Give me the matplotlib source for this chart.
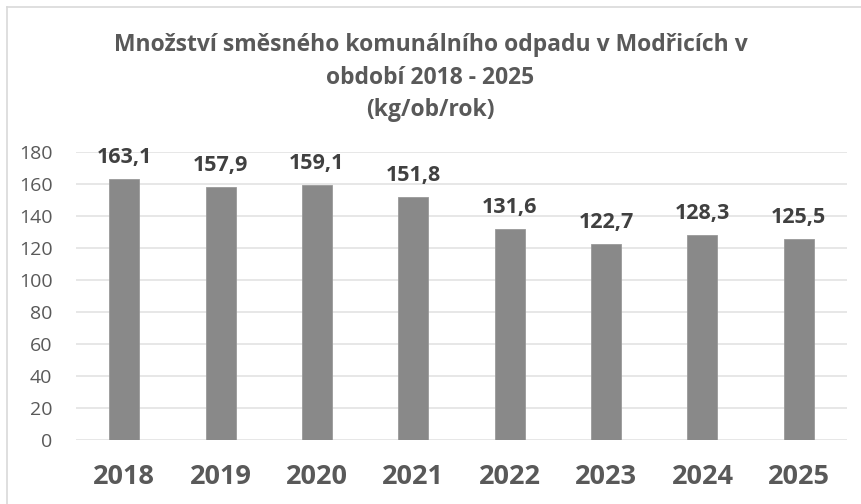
import matplotlib.pyplot as plt
from matplotlib.lines import Line2D

years = ["2018", "2019", "2020", "2021", "2022", "2023", "2024", "2025"]
waste_kg = [163.1, 157.9, 159.1, 151.8, 131.6, 122.7, 128.3, 125.5]
y_ticks = [0, 20, 40, 60, 80, 100, 120, 140, 160, 180]
title_lines = ["Množství směsného komunálního odpadu v Modřicích v",
               "období 2018 - 2025",
               "(kg/ob/rok)"]

TEXT = "#595959"
BAR = "#898989"
GRID = "#e3e3e3"

plt.rcParams["font.family"] = ["Open Sans", "DejaVu Sans"]

fig = plt.figure(figsize=(8.61, 5.04), dpi=100)
ax = fig.add_axes([76 / 861, 1 - 440 / 504, 771 / 861, 288 / 504])

x = range(len(years))
ax.bar(x, waste_kg, width=0.31, color=BAR, edgecolor="#9a9a9a", linewidth=0.6, zorder=3)

for xi, v in zip(x, waste_kg):
    ax.annotate(f"{v:.1f}".replace(".", ","), (xi, v), xytext=(0, 8),
                textcoords="offset points", ha="center", va="bottom",
                fontsize=15.5, fontweight="bold", color="#404040")

ax.set_xlim(-0.5, len(years) - 0.5)
ax.set_ylim(0, 180)
ax.set_yticks(y_ticks)
ax.set_yticklabels([str(t) for t in y_ticks], fontsize=14, color=TEXT)
ax.set_xticks(list(x))
ax.set_xticklabels(years, fontsize=19.5, fontweight="bold", color=TEXT)
ax.tick_params(axis="both", length=0)
ax.tick_params(axis="x", pad=17)
ax.tick_params(axis="y", pad=17)
ax.grid(axis="y", color=GRID, linewidth=1.2, zorder=0)
for s in ax.spines.values():
    s.set_visible(False)

# three title lines, placed one by one
for line, ypx in zip(title_lines, [45, 78, 110]):
    fig.text(0.5, 1 - ypx / 504, line, ha="center", va="center",
             fontsize=16.5, fontweight="bold", color=TEXT)

# chart frame (only the top and left edges are visible in the crop)
fig.add_artist(Line2D([7 / 861, 1], [1 - 7 / 504, 1 - 7 / 504], color="#d9d9d9", lw=1.2))
fig.add_artist(Line2D([7 / 861, 7 / 861], [0, 1 - 7 / 504], color="#d9d9d9", lw=1.2))

fig.savefig("out.png", dpi=100)
